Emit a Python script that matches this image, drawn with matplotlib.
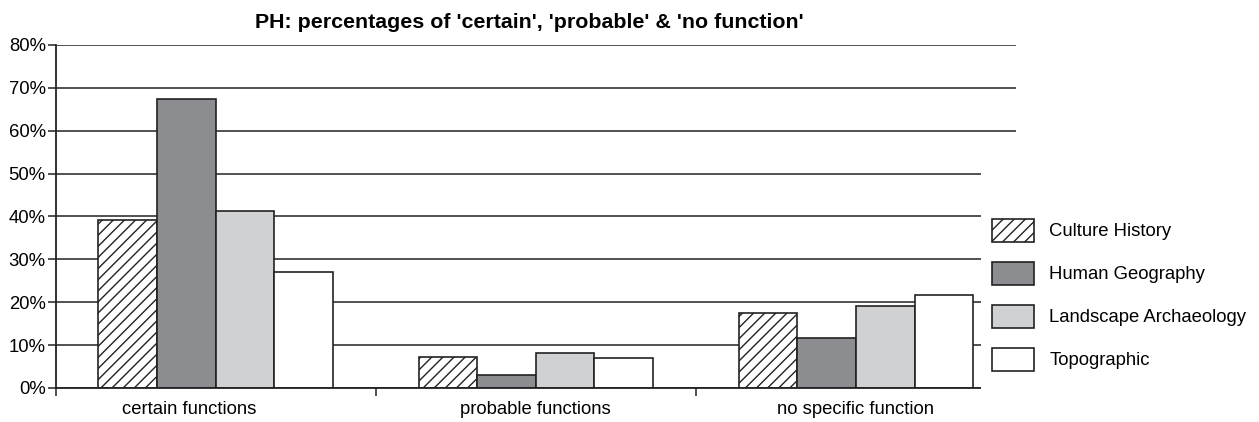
import matplotlib

matplotlib.use("Agg")
import matplotlib.pyplot as plt
import numpy as np
from matplotlib.patches import Patch, Rectangle

plt.rcParams["font.family"] = ["Liberation Sans", "DejaVu Sans"]
plt.rcParams["hatch.linewidth"] = 1.0

categories = ["certain functions", "probable functions", "no specific function"]
series = ["Culture History", "Human Geography", "Landscape Archaeology", "Topographic"]
culture_history = [39.3, 7.3, 17.5]
human_geography = [67.4, 3.0, 11.7]
landscape_arch = [41.2, 8.2, 19.1]
topographic = [27.0, 7.1, 21.7]
values = [culture_history, human_geography, landscape_arch, topographic]

faces = ["white", "#8c8d91", "#d0d1d3", "white"]
hatches = ["///", None, None, None]
edge = "#222222"
fs = 13.3

fig = plt.figure(figsize=(12.59, 4.22), dpi=100)
ax = fig.add_axes([55.5 / 1259, 34 / 422, (1016 - 55.5) / 1259, 343 / 422])

x = np.arange(len(categories))
w = 0.183
for i, (vals, fc, h) in enumerate(zip(values, faces, hatches)):
    ax.bar(x + (i - 1.5) * w, vals, w, color=fc, edgecolor=edge, hatch=h,
           linewidth=1.2, zorder=2)

ax.set_xlim(-0.5, 2.5)
ax.set_ylim(0, 80)
ax.set_yticks(np.arange(0, 81, 10))
ax.set_yticklabels([f"{v}%" for v in range(0, 81, 10)])
ax.yaxis.grid(True, color="#222222", lw=1.1)
ax.set_axisbelow(True)

ax.set_xticks([-0.5, 0.5, 1.5, 2.5])
ax.set_xticklabels([])
# the original's first category label sits a little left of its bars
label_pos = x.astype(float)
label_pos[0] -= 0.084
ax.set_xticks(label_pos, minor=True)
ax.set_xticklabels(categories, minor=True)
ax.tick_params(axis="x", which="major", length=6, width=1.1, color="#222222")
ax.tick_params(axis="x", which="minor", length=0, pad=9.5, labelsize=fs)
ax.tick_params(axis="y", length=6, width=1.1, color="#222222", labelsize=fs, pad=1)

for s in ("top", "right"):
    ax.spines[s].set_visible(False)
for s in ("left", "bottom"):
    ax.spines[s].set_color("#222222")
    ax.spines[s].set_linewidth(1.3)

# excel-style legend box sits over the right end of the plot
ax.add_patch(Rectangle((0.9636, -0.3), 0.2, 0.994, transform=ax.transAxes,
                       facecolor="white", edgecolor="none", zorder=3, clip_on=False))

handles = [Patch(facecolor=fc, edgecolor=edge, hatch=h, linewidth=1.2)
           for fc, h in zip(faces, hatches)]
fig.legend(handles, series, loc="upper left", bbox_to_anchor=(975 / 1259, 1 - 202 / 422),
           frameon=False, fontsize=fs, handlelength=2.27, handleheight=1.54,
           labelspacing=1.08, handletextpad=0.86)

ax.set_title("PH: percentages of 'certain', 'probable' & 'no function'",
             fontsize=15.4, fontweight="bold", pad=12, x=0.493)

fig.savefig("out.png", dpi=100)
